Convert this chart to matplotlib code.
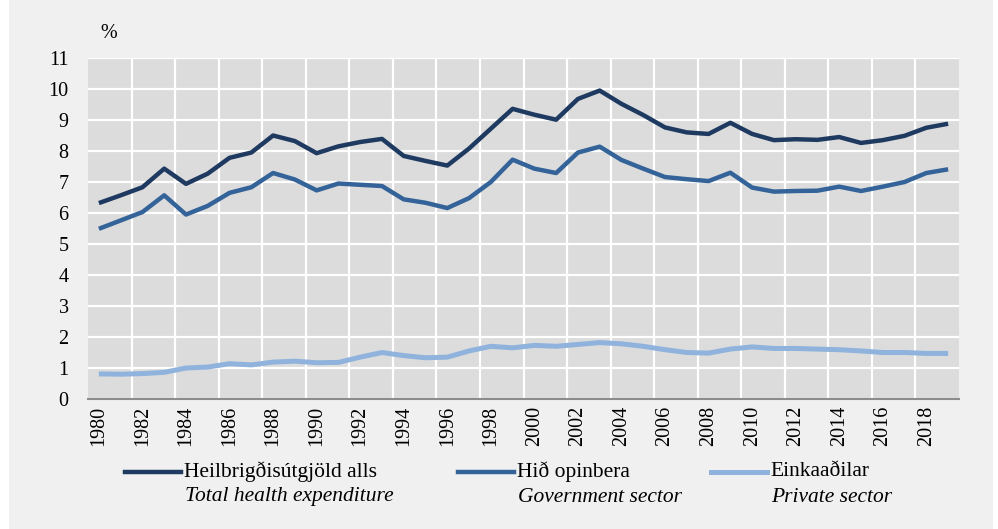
import matplotlib
matplotlib.use("Agg")
import matplotlib.pyplot as plt
import numpy as np
from matplotlib.lines import Line2D
from matplotlib.patches import Rectangle

plt.rcParams['font.family'] = ['Liberation Serif', 'DejaVu Serif']

#------------------------------------------------------------------------
# data (% of GDP)
years = list(range(1980, 2020))

total = [6.32, 6.57, 6.83, 7.43, 6.94, 7.27, 7.78, 7.95, 8.50, 8.32,
         7.93, 8.15, 8.29, 8.39, 7.84, 7.68, 7.53, 8.08, 8.72, 9.36,
         9.17, 9.01, 9.68, 9.95, 9.52, 9.16, 8.76, 8.60, 8.55, 8.91,
         8.55, 8.35, 8.38, 8.36, 8.45, 8.26, 8.35, 8.49, 8.75, 8.88]

government = [5.49, 5.76, 6.03, 6.57, 5.95, 6.23, 6.65, 6.83, 7.29, 7.08,
              6.73, 6.95, 6.91, 6.87, 6.44, 6.33, 6.16, 6.48, 7.00, 7.72,
              7.43, 7.29, 7.95, 8.14, 7.71, 7.43, 7.16, 7.09, 7.03, 7.30,
              6.82, 6.69, 6.71, 6.72, 6.85, 6.71, 6.85, 7.00, 7.29, 7.41]

private = [0.81, 0.80, 0.82, 0.86, 1.00, 1.03, 1.14, 1.10, 1.19, 1.22,
           1.17, 1.18, 1.35, 1.50, 1.40, 1.33, 1.35, 1.55, 1.70, 1.65,
           1.73, 1.70, 1.76, 1.82, 1.78, 1.70, 1.59, 1.50, 1.48, 1.61,
           1.68, 1.63, 1.63, 1.61, 1.59, 1.55, 1.50, 1.50, 1.47, 1.47]

labels_is = ["Heilbrigðisútgjöld alls", "Hið opinbera", "Einkaaðilar"]
labels_en = ["Total health expenditure", "Government sector", "Private sector"]
colors = ["#1f3a60", "#336399", "#8fb3dc"]

#------------------------------------------------------------------------
W, H = 998, 529
fig = plt.figure(figsize=(W / 100, H / 100), dpi=100)
fig.patch.set_facecolor("white")
fig.add_artist(Rectangle((9 / W, 0), 984 / W, 1, transform=fig.transFigure,
                         facecolor="#f0f0f0", edgecolor="none", zorder=-10))

ax = fig.add_axes([88 / W, 1 - 399 / H, (959 - 88) / W, (399 - 58) / H])
ax.set_facecolor("#dcdcdc")

series = [total, government, private]
widths = [3.2, 3.2, 3.6]
for vals, col, lw in zip(series, colors, widths):
    ax.plot(years, vals, color=col, lw=lw, solid_capstyle="butt", zorder=3)

ax.set_xlim(1979.5, 2019.5)
ax.set_ylim(0, 11)
ax.set_yticks(range(0, 12))
ax.set_xticks(range(1980, 2020, 2))
ax.set_xticks(np.arange(1981.5, 2019, 2), minor=True)
ax.tick_params(axis="x", which="major", length=0, rotation=90, labelsize=14.5, pad=5)
ax.tick_params(axis="x", which="minor", length=0)
ax.tick_params(axis="y", length=0, labelsize=14.5, pad=14)
for lab in ax.get_yticklabels():
    lab.set_horizontalalignment("right")

ax.grid(axis="y", which="major", color="white", lw=1.6, zorder=1)
ax.grid(axis="x", which="minor", color="white", lw=1.6, zorder=1)
ax.grid(axis="x", which="major", visible=False)

for side in ["top", "right", "left"]:
    ax.spines[side].set_visible(False)
ax.spines["bottom"].set_color("#8c8c8c")
ax.spines["bottom"].set_linewidth(1.5)
ax.spines["bottom"].set_zorder(4)

fig.text(100 / W, 1 - 33 / H, "%", fontsize=14.5, va="center", ha="left")

# legend below the plot, two rows (Icelandic / English italic)
handle_x = [125, 458, 711]
for hx, col, lw, lab_is, lab_en in zip(handle_x, colors, widths, labels_is, labels_en):
    fig.add_artist(Line2D([hx / W, (hx + 56) / W], [1 - 472 / H, 1 - 472 / H],
                          transform=fig.transFigure, color=col, lw=lw))
    fig.text((hx + 59) / W, 1 - 472 / H, lab_is, fontsize=15.5, va="center", ha="left")
    fig.text((hx + 60) / W, 1 - 497 / H, lab_en, fontsize=15.5, va="center", ha="left",
             style="italic")

plt.savefig("out.png", dpi=100)
